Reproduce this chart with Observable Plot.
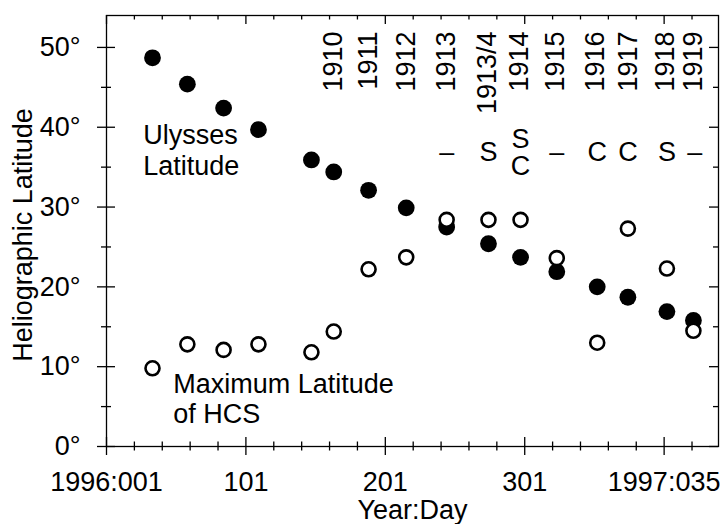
<!DOCTYPE html>
<html><head><meta charset="utf-8">
<script src="https://cdn.jsdelivr.net/npm/d3@7"></script>
<script src="https://cdn.jsdelivr.net/npm/@observablehq/plot@0.6"></script>
<style>body{margin:0;background:#fff} svg{display:block}</style>
</head><body><div id="chart"></div>
<script>
// Day of 1996 (1997:035 = day 401)
const days       = [34, 59, 85, 110, 148, 164, 189, 216, 245, 275, 298, 324, 353, 375, 403, 422];
const ulyssesLat = [48.7, 45.4, 42.4, 39.7, 35.9, 34.4, 32.1, 29.9, 27.5, 25.4, 23.7, 21.9, 20.0, 18.7, 16.9, 15.8];
const hcsMaxLat  = [9.8, 12.8, 12.1, 12.8, 11.8, 14.4, 22.2, 23.7, 28.4, 28.4, 28.4, 23.6, 13.0, 27.3, 22.3, 14.5];

const rotationDays   = [164, 189, 216, 245, 274, 297, 323, 352, 375, 402, 422];
const rotationLabels = ["1910","1911","1912","1913","1913/4","1914","1915","1916","1917","1918","1919"];
const stateDays   = [245, 275, 298, 324, 353, 375, 403, 423];
const stateLabels = ["–","S","S\nC","–","C","C","S","–"];

const xTickDays   = [1, 101, 201, 301, 401];
const xTickLabels = ["1996:001","101","201","301","1997:035"];
const yTicks      = [0, 10, 20, 30, 40, 50];
const yMinor      = [5, 15, 25, 35, 45];
const xMinor      = d3.range(21, 440, 20).filter(d => !xTickDays.includes(d));

const W = 721, H = 524, mL = 106, mR = 3, mT = 15, mB = 78;
const pw = W - mL - mR, ph = H - mT - mB;

const ulysses = days.map((d, i) => ({day: d, lat: ulyssesLat[i]}));
const hcs = days.map((d, i) => ({day: d, lat: hcsMaxLat[i]}));
const rot = rotationDays.map((d, i) => ({day: d, label: rotationLabels[i]}));
const states = stateDays.map((d, i) => ({day: d, label: stateLabels[i]}));

const sw = 1.3;
const chart = Plot.plot({
  width: W, height: H,
  marginLeft: mL, marginRight: mR, marginTop: mT, marginBottom: mB,
  style: {fontFamily: "'Liberation Sans', Arial, Helvetica, sans-serif", fontSize: "27px", color: "black", background: "white"},
  x: {domain: [1, 440], axis: null},
  y: {domain: [0, 54], axis: null},
  marks: [
    Plot.frame({stroke: "black", strokeWidth: sw}),
    // bottom ticks (crossing)
    Plot.tickX(xTickDays, {x: d => d, insetTop: ph - 9, insetBottom: -9, stroke: "black", strokeWidth: sw}),
    Plot.tickX(xMinor, {x: d => d, insetTop: ph - 4.5, insetBottom: -4.5, stroke: "black", strokeWidth: sw}),
    // top ticks (inward)
    Plot.tickX(xTickDays, {x: d => d, insetBottom: ph - 9, stroke: "black", strokeWidth: sw}),
    Plot.tickX(xMinor, {x: d => d, insetBottom: ph - 4.5, stroke: "black", strokeWidth: sw}),
    // left ticks (crossing)
    Plot.tickY(yTicks, {y: d => d, insetLeft: -9, insetRight: pw - 9, stroke: "black", strokeWidth: sw}),
    Plot.tickY(yMinor, {y: d => d, insetLeft: -5, insetRight: pw - 5, stroke: "black", strokeWidth: sw}),
    // right ticks (inward)
    Plot.tickY(yTicks, {y: d => d, insetLeft: pw - 9, stroke: "black", strokeWidth: sw}),
    Plot.tickY(yMinor, {y: d => d, insetLeft: pw - 5, stroke: "black", strokeWidth: sw}),
    // tick labels
    Plot.text(xTickDays, {x: d => d, frameAnchor: "bottom", dy: 36, text: (d, i) => xTickLabels[i], textAnchor: "middle", lineAnchor: "middle", fill: "black"}),
    Plot.text(yTicks, {y: d => d, frameAnchor: "left", dx: -26, text: d => d + "°", textAnchor: "end", lineAnchor: "middle", fill: "black"}),
    Plot.text(["Year:Day"], {frameAnchor: "bottom", dy: 64, textAnchor: "middle", lineAnchor: "middle", fill: "black"}),
    Plot.text(["Heliographic Latitude"], {frameAnchor: "left", dx: -83, dy: 4, rotate: -90, textAnchor: "middle", lineAnchor: "middle", fill: "black"}),
    // data
    Plot.dot(ulysses, {x: "day", y: "lat", r: 8.4, fill: "black", stroke: "none"}),
    Plot.dot(hcs, {x: "day", y: "lat", r: 7, fill: "white", stroke: "black", strokeWidth: 2.6}),
    // annotations
    Plot.text(["Ulysses\nLatitude"], {x: 27.3, y: 37.2, textAnchor: "start", lineAnchor: "middle", lineHeight: 1.15, fill: "black"}),
    Plot.text(["Maximum Latitude\nof HCS"], {x: 48.8, y: 6.07, textAnchor: "start", lineAnchor: "middle", lineHeight: 1.11, fill: "black"}),
    Plot.text(rot, {x: "day", y: 52.0, text: "label", rotate: -90, textAnchor: "end", lineAnchor: "middle", fill: "black"}),
    Plot.text(states, {x: "day", y: 36.8, text: "label", lineAnchor: "middle", lineHeight: 1.0, fill: "black"})
  ]
});
document.getElementById("chart").appendChild(chart);
</script>
</body></html>
